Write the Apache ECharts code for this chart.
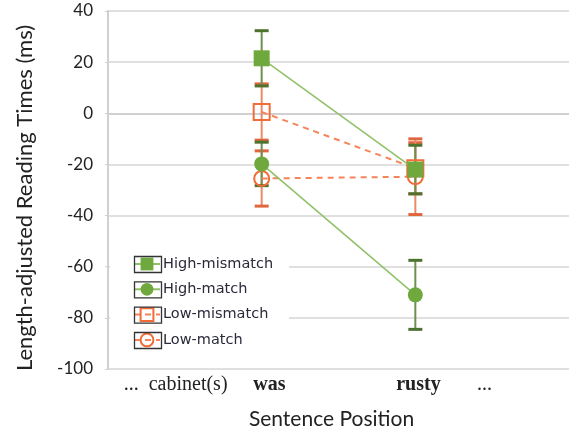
<!DOCTYPE html>
<html>
<head>
<meta charset="utf-8">
<script src="https://cdn.jsdelivr.net/npm/echarts@6/dist/echarts.min.js"></script>
<style>html,body{margin:0;padding:0;background:#fff;}#c{width:569px;height:431px;}</style>
</head>
<body>
<div id="c"></div>
<script>
// ---- data ----
const positions = [1, 2];               // x position of "was" and "rusty"
const xTickValues = [0.44, 1.05, 2.02, 2.45];
const xTickTexts = ['...  cabinet(s)', 'was', 'rusty', '...'];
const xTickBold = [false, true, true, false];
const yTicks = [-100, -80, -60, -40, -20, 0, 20, 40];

const seriesNames = ['High-mismatch', 'High-match', 'Low-mismatch', 'Low-match'];
const highMismatchMean = [21.5, -22];
const highMismatchErr = [10.8, 9.5];
const highMatchMean = [-19.8, -71];
const highMatchErr = [8.5, 13.5];
const lowMismatchMean = [0.5, -21.5];
const lowMismatchErr = [11, 10];
const lowMatchMean = [-25.5, -24.8];
const lowMatchErr = [10.8, 14.8];

// ---- styles ----
const GREEN = '#6fa83d', GREEN_LINE = '#8fc067', GREEN_BAR = '#6e8f4e', GREEN_CAP = '#4d7330';
const ORANGE = '#f26c38', ORANGE_LINE = '#f5845a', ORANGE_BAR = '#ec8a68', ORANGE_CAP = '#e2663d';

function pts(mean) { return positions.map((p, i) => [p, mean[i]]); }
function errs(mean, err) { return positions.map((p, i) => [p, mean[i] - err[i], mean[i] + err[i]]); }

function errSeries(name, data, lineColor, capColor) {
  return {
    type: 'custom', name: name + '_err', silent: true, z: 1,
    data: data,
    renderItem: function (params, api) {
      const x = api.value(0);
      const lo = api.coord([x, api.value(1)]);
      const hi = api.coord([x, api.value(2)]);
      const w = 7;
      return {
        type: 'group',
        children: [
          { type: 'line', shape: { x1: lo[0], y1: lo[1], x2: hi[0], y2: hi[1] }, style: { stroke: lineColor, lineWidth: 2 } },
          { type: 'line', shape: { x1: hi[0] - w, y1: hi[1], x2: hi[0] + w, y2: hi[1] }, style: { stroke: capColor, lineWidth: 3 } },
          { type: 'line', shape: { x1: lo[0] - w, y1: lo[1], x2: lo[0] + w, y2: lo[1] }, style: { stroke: capColor, lineWidth: 3 } }
        ]
      };
    }
  };
}

const splitColors = yTicks.map(v => v === 0 ? '#9a9a9a' : '#d6d6d6');

// legend icon frames (decoration)
const frameRows = [262, 287.3, 312.6, 338];
const frames = frameRows.map(cy => ({
  type: 'rect', left: 132, top: cy - 8, z: 100, silent: true,
  shape: { width: 27, height: 16 },
  style: { fill: 'none', stroke: '#333', lineWidth: 1.3 }
}));

const chart = echarts.init(document.getElementById('c'), null, { renderer: 'canvas' });
chart.setOption({
  backgroundColor: '#fff',
  animation: false,
  grid: { left: 108, right: 0, top: 11, bottom: 62, containLabel: false, outerBoundsMode: 'none' },
  graphic: frames,
  legend: {
    orient: 'vertical', left: 110, top: 249,
    padding: [7, 16, 7, 23], itemGap: 9.3, itemWidth: 26, itemHeight: 16,
    backgroundColor: '#fff',
    data: seriesNames,
    textStyle: { fontFamily: 'DejaVu Sans', fontSize: 14.5, lineHeight: 16, color: '#2a2a3a', padding: [0, 0, 0, -2] }
  },
  xAxis: {
    type: 'value', min: 0, max: 3, interval: 0.01,
    name: 'Sentence Position', nameLocation: 'middle', nameGap: 40,
    nameTextStyle: { fontFamily: 'Lato', fontSize: 21, color: '#222', padding: [0, 14, 0, 0] },
    axisLine: { show: true, lineStyle: { color: '#d0d0d0', width: 2 } },
    axisTick: { show: false },
    splitLine: { show: false },
    axisLabel: {
      margin: 6, showMinLabel: true, showMaxLabel: true,
      formatter: function (v) {
        for (let i = 0; i < xTickValues.length; i++) {
          if (Math.abs(v - xTickValues[i]) < 1e-6) return xTickBold[i] ? '{b|' + xTickTexts[i] + '}' : '{n|' + xTickTexts[i] + '}';
        }
        return '';
      },
      rich: {
        b: { fontFamily: 'Liberation Serif', fontSize: 20, fontWeight: 'bold', color: '#222' },
        n: { fontFamily: 'Liberation Serif', fontSize: 20, color: '#222' }
      }
    }
  },
  yAxis: {
    type: 'value', min: -100, max: 40, interval: 20,
    name: 'Length-adjusted Reading Times (ms)', nameLocation: 'middle', nameGap: 72,
    nameTextStyle: { fontFamily: 'Lato', fontSize: 22, color: '#222', padding: [0, 16, 0, 0] },
    axisLine: { show: true, lineStyle: { color: '#d0d0d0', width: 2 } },
    axisTick: { show: true, length: 3, lineStyle: { color: '#d0d0d0' } },
    axisLabel: { margin: 15, fontFamily: 'Lato', fontSize: 17, color: '#222' },
    splitLine: { show: true, lineStyle: { color: splitColors, width: 1.5 } }
  },
  series: [
    errSeries('Low-mismatch', errs(lowMismatchMean, lowMismatchErr), ORANGE_BAR, ORANGE_CAP),
    errSeries('Low-match', errs(lowMatchMean, lowMatchErr), ORANGE_BAR, ORANGE_CAP),
    errSeries('High-mismatch', errs(highMismatchMean, highMismatchErr), GREEN_BAR, GREEN_CAP),
    errSeries('High-match', errs(highMatchMean, highMatchErr), GREEN_BAR, GREEN_CAP),
    {
      type: 'line', name: 'Low-match', data: pts(lowMatchMean), z: 3,
      symbol: 'circle', symbolSize: 15,
      itemStyle: { color: 'rgba(255,255,255,0)', borderColor: ORANGE, borderWidth: 2 },
      lineStyle: { color: ORANGE_LINE, width: 2, type: [6, 5] }
    },
    {
      type: 'line', name: 'Low-mismatch', data: pts(lowMismatchMean), z: 3,
      symbol: 'rect', symbolSize: 16,
      itemStyle: { color: 'rgba(255,255,255,0)', borderColor: ORANGE, borderWidth: 2 },
      lineStyle: { color: ORANGE_LINE, width: 2, type: [6, 5] }
    },
    {
      type: 'line', name: 'High-match', data: pts(highMatchMean), z: 4,
      symbol: 'circle', symbolSize: 15,
      itemStyle: { color: GREEN, borderWidth: 0 },
      lineStyle: { color: GREEN_LINE, width: 1.5 }
    },
    {
      type: 'line', name: 'High-mismatch', data: pts(highMismatchMean), z: 4,
      symbol: 'rect', symbolSize: 16,
      itemStyle: { color: GREEN, borderWidth: 0 },
      lineStyle: { color: GREEN_LINE, width: 1.5 }
    }
  ]
});
</script>
</body>
</html>
